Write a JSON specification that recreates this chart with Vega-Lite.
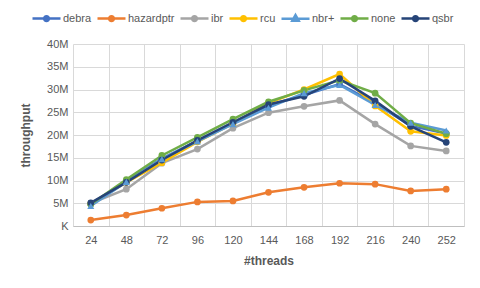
{
  "$schema": "https://vega.github.io/schema/vega-lite/v6.json",
  "width": 391,
  "height": 182,
  "autosize": {"type": "none"},
  "padding": {"left": 73, "top": 44, "right": 16, "bottom": 62},
  "background": "white",
  "config": {
    "view": {"stroke": null},
    "font": "Liberation Sans",
    "axis": {
      "labelFont": "Liberation Sans",
      "labelFontSize": 11,
      "labelColor": "#595959",
      "titleFont": "Liberation Sans",
      "titleFontSize": 12,
      "titleFontWeight": "bold",
      "titleColor": "#595959",
      "gridColor": "#D9D9D9",
      "gridWidth": 1
    },
    "legend": {
      "labelFont": "Liberation Sans",
      "labelFontSize": 11,
      "labelColor": "#595959"
    }
  },
  "data": {
    "values": [
      {"threads": 24, "series": "debra", "throughput": 4800000},
      {"threads": 48, "series": "debra", "throughput": 9800000},
      {"threads": 72, "series": "debra", "throughput": 14800000},
      {"threads": 96, "series": "debra", "throughput": 18700000},
      {"threads": 120, "series": "debra", "throughput": 22600000},
      {"threads": 144, "series": "debra", "throughput": 26500000},
      {"threads": 168, "series": "debra", "throughput": 28800000},
      {"threads": 192, "series": "debra", "throughput": 31200000},
      {"threads": 216, "series": "debra", "throughput": 27000000},
      {"threads": 240, "series": "debra", "throughput": 22000000},
      {"threads": 252, "series": "debra", "throughput": 20300000},
      {"threads": 24, "series": "hazardptr", "throughput": 1300000},
      {"threads": 48, "series": "hazardptr", "throughput": 2400000},
      {"threads": 72, "series": "hazardptr", "throughput": 3900000},
      {"threads": 96, "series": "hazardptr", "throughput": 5300000},
      {"threads": 120, "series": "hazardptr", "throughput": 5500000},
      {"threads": 144, "series": "hazardptr", "throughput": 7400000},
      {"threads": 168, "series": "hazardptr", "throughput": 8500000},
      {"threads": 192, "series": "hazardptr", "throughput": 9400000},
      {"threads": 216, "series": "hazardptr", "throughput": 9200000},
      {"threads": 240, "series": "hazardptr", "throughput": 7700000},
      {"threads": 252, "series": "hazardptr", "throughput": 8100000},
      {"threads": 24, "series": "ibr", "throughput": 5000000},
      {"threads": 48, "series": "ibr", "throughput": 8100000},
      {"threads": 72, "series": "ibr", "throughput": 13800000},
      {"threads": 96, "series": "ibr", "throughput": 16900000},
      {"threads": 120, "series": "ibr", "throughput": 21500000},
      {"threads": 144, "series": "ibr", "throughput": 24900000},
      {"threads": 168, "series": "ibr", "throughput": 26300000},
      {"threads": 192, "series": "ibr", "throughput": 27600000},
      {"threads": 216, "series": "ibr", "throughput": 22400000},
      {"threads": 240, "series": "ibr", "throughput": 17600000},
      {"threads": 252, "series": "ibr", "throughput": 16500000},
      {"threads": 24, "series": "rcu", "throughput": 4900000},
      {"threads": 48, "series": "rcu", "throughput": 9600000},
      {"threads": 72, "series": "rcu", "throughput": 13900000},
      {"threads": 96, "series": "rcu", "throughput": 18500000},
      {"threads": 120, "series": "rcu", "throughput": 22500000},
      {"threads": 144, "series": "rcu", "throughput": 27000000},
      {"threads": 168, "series": "rcu", "throughput": 30000000},
      {"threads": 192, "series": "rcu", "throughput": 33400000},
      {"threads": 216, "series": "rcu", "throughput": 26400000},
      {"threads": 240, "series": "rcu", "throughput": 20800000},
      {"threads": 252, "series": "rcu", "throughput": 19900000},
      {"threads": 24, "series": "nbr+", "throughput": 4400000},
      {"threads": 48, "series": "nbr+", "throughput": 9700000},
      {"threads": 72, "series": "nbr+", "throughput": 14700000},
      {"threads": 96, "series": "nbr+", "throughput": 18600000},
      {"threads": 120, "series": "nbr+", "throughput": 22400000},
      {"threads": 144, "series": "nbr+", "throughput": 26000000},
      {"threads": 168, "series": "nbr+", "throughput": 29200000},
      {"threads": 192, "series": "nbr+", "throughput": 31000000},
      {"threads": 216, "series": "nbr+", "throughput": 26600000},
      {"threads": 240, "series": "nbr+", "throughput": 22700000},
      {"threads": 252, "series": "nbr+", "throughput": 21000000},
      {"threads": 24, "series": "none", "throughput": 4800000},
      {"threads": 48, "series": "none", "throughput": 10200000},
      {"threads": 72, "series": "none", "throughput": 15500000},
      {"threads": 96, "series": "none", "throughput": 19500000},
      {"threads": 120, "series": "none", "throughput": 23500000},
      {"threads": 144, "series": "none", "throughput": 27300000},
      {"threads": 168, "series": "none", "throughput": 29800000},
      {"threads": 192, "series": "none", "throughput": 32000000},
      {"threads": 216, "series": "none", "throughput": 29200000},
      {"threads": 240, "series": "none", "throughput": 22600000},
      {"threads": 252, "series": "none", "throughput": 20300000},
      {"threads": 24, "series": "qsbr", "throughput": 5100000},
      {"threads": 48, "series": "qsbr", "throughput": 9600000},
      {"threads": 72, "series": "qsbr", "throughput": 14500000},
      {"threads": 96, "series": "qsbr", "throughput": 18800000},
      {"threads": 120, "series": "qsbr", "throughput": 22800000},
      {"threads": 144, "series": "qsbr", "throughput": 26700000},
      {"threads": 168, "series": "qsbr", "throughput": 28500000},
      {"threads": 192, "series": "qsbr", "throughput": 32400000},
      {"threads": 216, "series": "qsbr", "throughput": 27500000},
      {"threads": 240, "series": "qsbr", "throughput": 21900000},
      {"threads": 252, "series": "qsbr", "throughput": 18400000}
    ]
  },
  "encoding": {
    "x": {
      "field": "threads",
      "type": "ordinal",
      "scale": {"type": "band", "paddingInner": 0, "paddingOuter": 0},
      "axis": {
        "title": "#threads",
        "labelAngle": 0,
        "tickBand": "extent",
        "ticks": false,
        "grid": true,
        "domainColor": "#BFBFBF",
        "labelPadding": 8,
        "titlePadding": 10
      }
    },
    "y": {
      "field": "throughput",
      "type": "quantitative",
      "scale": {"domain": [0, 40000000]},
      "axis": {
        "title": "throughput",
        "values": [0, 5000000, 10000000, 15000000, 20000000, 25000000, 30000000, 35000000, 40000000],
        "labelExpr": "datum.value == 0 ? 'K' : (datum.value / 1000000) + 'M'",
        "domain": false,
        "ticks": false,
        "labelPadding": 5,
        "titlePadding": 14
      }
    },
    "color": {
      "field": "series",
      "type": "nominal",
      "scale": {
        "domain": ["debra", "hazardptr", "ibr", "rcu", "nbr+", "none", "qsbr"],
        "range": ["#4472C4", "#ED7D31", "#A5A5A5", "#FFC000", "#5B9BD5", "#70AD47", "#264478"]
      },
      "legend": {
        "title": null,
        "orient": "none",
        "direction": "horizontal",
        "legendX": -42,
        "legendY": -41,
        "symbolSize": 784,
        "symbolStrokeWidth": 2.5,
        "labelOffset": 1,
        "columnPadding": 0,
        "encode": {
          "symbols": {
            "update": {
              "shape": {"signal": "datum.value === 'nbr+' ? 'M-1,0L1,0M0,-0.26L0.23,0.16L-0.23,0.16Z' : 'M-1,0L1,0M-0.17,0A0.17,0.17,0,1,0,0.17,0A0.17,0.17,0,1,0,-0.17,0Z'"},
              "fill": {"scale": "color", "field": "value"},
              "stroke": {"scale": "color", "field": "value"},
              "fillOpacity": {"value": 1},
              "strokeOpacity": {"value": 1}
            }
          }
        }
      }
    }
  },
  "layer": [
    {
      "mark": {"type": "line", "strokeWidth": 2.5}
    },
    {
      "transform": [{"filter": "datum.series !== 'nbr+'"}],
      "mark": {"type": "point", "filled": true, "size": 45, "opacity": 1, "shape": "circle"}
    },
    {
      "transform": [{"filter": "datum.series === 'nbr+'"}],
      "mark": {"type": "point", "filled": true, "size": 50, "opacity": 1, "shape": "triangle-up"}
    }
  ]
}
